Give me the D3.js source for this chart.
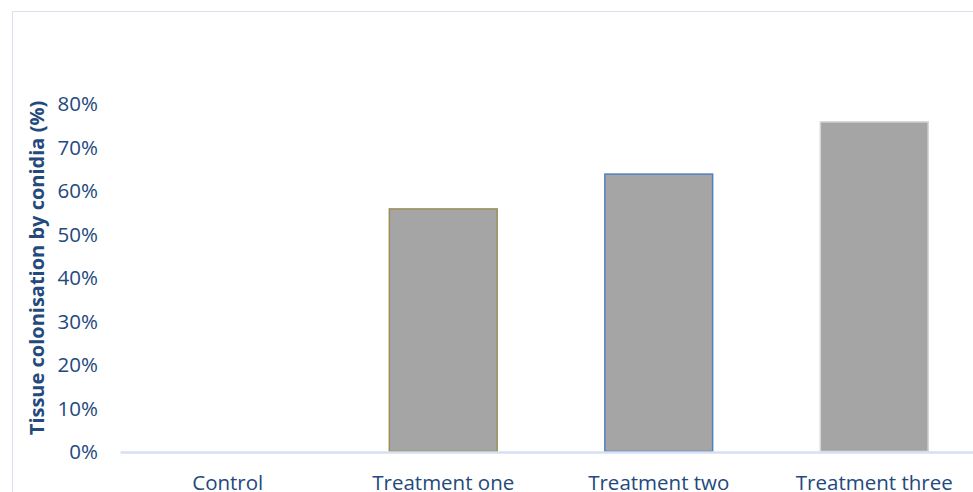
<!DOCTYPE html>
<html>
<head>
<meta charset="utf-8">
<script src="https://cdn.jsdelivr.net/npm/d3@7"></script>
<style>
  html, body { margin: 0; padding: 0; background: #fff; }
  svg { display: block; }
  text { font-family: "Open Sans", "Noto Sans", sans-serif; }
</style>
</head>
<body>
<svg id="chart" width="973" height="492"></svg>
<script>
// Tissue colonisation by conidia per treatment
const categories = ["Control", "Treatment one", "Treatment two", "Treatment three"];
const values = [0, 0.56, 0.64, 0.76];
const barStrokes = ["#a5a5a5", "#9a9057", "#4f81bd", "#d4d4d4"];
const tickValues = [0, 0.1, 0.2, 0.3, 0.4, 0.5, 0.6, 0.7, 0.8];
const yTitle = "Tissue colonisation by conidia (%)";

const svg = d3.select("#chart");
const plot = { left: 120, right: 982, top: 104, bottom: 452 };
const textColor = "#23497d";
const fontFamily = "'Open Sans', 'Noto Sans', sans-serif";

// outer chart frame
svg.append("rect")
  .attr("x", 12.5).attr("y", 11.5)
  .attr("width", 1000).attr("height", 600)
  .attr("fill", "none").attr("stroke", "#d9e2f3").attr("stroke-width", 1);

const x = d3.scaleBand().domain(categories).range([plot.left, plot.right])
  .paddingInner(0.495).paddingOuter(0.2475);
const y = d3.scaleLinear().domain([0, 0.8]).range([plot.bottom, plot.top]);

// bars
svg.append("g").selectAll("rect")
  .data(categories.map((c, i) => ({ c, v: values[i], s: barStrokes[i] })))
  .join("rect")
  .attr("x", d => x(d.c) + 0.5)
  .attr("y", d => y(d.v) + 0.5)
  .attr("width", x.bandwidth() - 1)
  .attr("height", d => Math.max(0, y(0) - y(d.v) - 1))
  .attr("fill", "#a5a5a5")
  .attr("stroke", d => d.s)
  .attr("stroke-width", d => d.v > 0 ? 1.5 : 0);

// y axis labels
const yAxis = d3.axisLeft(y).tickValues(tickValues)
  .tickFormat(d3.format(".0%")).tickSize(0).tickPadding(0);
const gy = svg.append("g").attr("transform", "translate(98,0)").call(yAxis);
gy.select(".domain").remove();
gy.selectAll("text")
  .attr("fill", textColor).attr("font-size", 20.5)
  .attr("font-family", fontFamily);

// x axis baseline and labels
const xAxis = d3.axisBottom(x).tickSize(0).tickPadding(0);
const gx = svg.append("g").attr("transform", `translate(0,${plot.bottom})`).call(xAxis);
gx.select(".domain").attr("stroke", "#d6e0f1").attr("stroke-width", 2.5);
gx.selectAll("text")
  .attr("dy", 0).attr("y", 38)
  .attr("fill", textColor).attr("font-size", 20.5)
  .attr("font-family", fontFamily);

// y axis title
svg.append("text")
  .attr("transform", `translate(44,${(plot.top + plot.bottom) / 2 - 10}) rotate(-90)`)
  .attr("text-anchor", "middle")
  .attr("fill", textColor)
  .attr("font-size", 20)
  .attr("font-weight", "bold")
  .attr("font-family", fontFamily)
  .text(yTitle);
</script>
</body>
</html>
